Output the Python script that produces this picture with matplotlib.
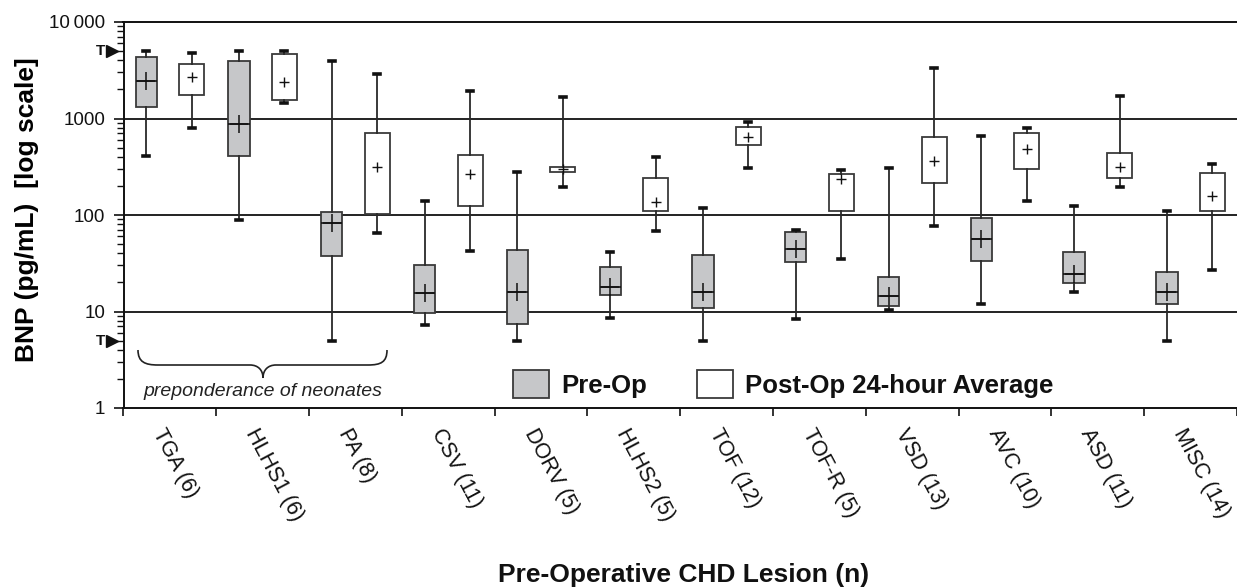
import matplotlib
matplotlib.use('Agg')
import matplotlib.pyplot as plt
from matplotlib.path import Path
from matplotlib.patches import PathPatch, Patch
import matplotlib.transforms as mtransforms
from matplotlib.ticker import FixedLocator, NullFormatter, LogLocator

plt.rcParams['font.family'] = ['Liberation Sans', 'DejaVu Sans']

categories = ["TGA (6)", "HLHS1 (6)", "PA (8)", "CSV (11)", "DORV (5)", "HLHS2 (5)",
              "TOF (12)", "TOF-R (5)", "VSD (13)", "AVC (10)", "ASD (11)", "MISC (14)"]

pre_low  = [412, 89, 5.0, 7.2, 5.0, 8.6, 5.0, 8.4, 10.4, 12.0, 15.8, 5.0]
pre_q1   = [1325, 408, 37.6, 9.6, 7.5, 14.8, 10.8, 32.3, 11.4, 33.4, 19.6, 12.0]
pre_med  = [2465, 871, 82, 15.7, 16.0, 17.8, 16.0, 44.1, 14.5, 56.4, 24.3, 15.8]
pre_q3   = [4370, 3910, 107, 30.5, 43.4, 28.7, 38.2, 66.6, 22.9, 92.4, 41.0, 25.5]
pre_high = [5040, 5040, 3980, 141, 281, 41.7, 118, 70, 309, 659, 125, 111]

post_low  = [803, 1437, 64.6, 42.7, 194, 68.3, 309, 35.0, 76.4, 141, 194, 26.9]
post_q1   = [1750, 1567, 101.6, 125, 281, 111, 531, 111, 216, 297, 240, 111]
post_med  = [2710, 2370, 317, 266, 300, 136, 638, 236, 365, 480, 317, 157]
post_q3   = [3640, 4620, 713, 422, 317, 242, 823, 266, 638, 713, 436, 274]
post_high = [4810, 5040, 2890, 1941, 1660, 402, 927, 292, 3360, 791, 1711, 338]

detect_limits = [5000, 5]

ytick_vals = [1, 10, 100, 1000, 10000]
ytick_labels = ["1", "10", "100", "1000", "10\u2009000"]

W, H = 1237, 588
fig = plt.figure(figsize=(W / 100, H / 100), dpi=100)
ax_l, ax_r, ax_t, ax_b = 123.5, 1237, 22, 408
ax = fig.add_axes([ax_l / W, 1 - ax_b / H, (ax_r - ax_l) / W, (ax_b - ax_t) / H])
cat_px = 92.9

def px_to_axes(px, py):
    return ((px - ax_l) / (ax_r - ax_l), (ax_b - py) / (ax_b - ax_t))

n = len(categories)
pos = list(range(n))

def stats(lo, q1, med, q3, hi):
    return [dict(whislo=a, q1=b, med=c, q3=d, whishi=e, mean=c, fliers=[])
            for a, b, c, d, e in zip(lo, q1, med, q3, hi)]

pre_stats = stats(pre_low, pre_q1, pre_med, pre_q3, pre_high)
post_stats = stats(post_low, post_q1, post_med, post_q3, post_high)

edge = '#3a3a3a'
common = dict(patch_artist=True, showmeans=True, meanline=False, showfliers=False,
              whiskerprops=dict(color='#2a2a2a', linewidth=1.3),
              capprops=dict(color='#111111', linewidth=2.6),
              capwidths=6 / cat_px, zorder=3)

ax.bxp(pre_stats, positions=[p - 0.255 for p in pos], widths=0.23,
       boxprops=dict(facecolor='#c6c7c9', edgecolor=edge, linewidth=1.3),
       medianprops=dict(color='#111111', linewidth=1.2),
       meanprops=dict(marker='+', markersize=13, markeredgecolor='#111111',
                      markeredgewidth=1.1),
       **common)
ax.bxp(post_stats, positions=[p + 0.235 for p in pos], widths=0.27,
       boxprops=dict(facecolor='white', edgecolor=edge, linewidth=1.3),
       medianprops=dict(linewidth=0),
       meanprops=dict(marker='+', markersize=7, markeredgecolor='#111111',
                      markeredgewidth=1.0),
       **common)

ax.set_yscale('log')
ax.set_ylim(1, 10000)
ax.set_xlim(-0.5, -0.5 + (ax_r - ax_l) / cat_px)

# horizontal reference lines
for v in [10, 100, 1000]:
    ax.axhline(v, color='#111111', linewidth=1.3, zorder=1)

ax.spines['right'].set_visible(False)
for s in ['left', 'bottom', 'top']:
    ax.spines[s].set_linewidth(1.4)
    ax.spines[s].set_color('#111111')

ax.yaxis.set_major_locator(FixedLocator(ytick_vals))
ax.set_yticklabels(ytick_labels)
ax.yaxis.set_minor_locator(LogLocator(base=10, subs=range(2, 10)))
ax.yaxis.set_minor_formatter(NullFormatter())
ax.tick_params(axis='y', which='major', direction='out', length=7, width=1.2,
               labelsize=13.5, pad=6, colors='#111111')
ax.tick_params(axis='y', which='minor', direction='out', length=5, width=1.0,
               colors='#111111')

ax.set_xticks(pos)
ax.set_xticks([p - 0.5 for p in range(n + 1)], minor=True)
ax.set_xticklabels(categories, rotation=-62, ha='left', va='baseline',
                   rotation_mode='anchor', fontsize=15.5)
ax.tick_params(axis='x', which='major', length=0, pad=18, colors='#111111')
ax.tick_params(axis='x', which='minor', direction='out', length=6, width=1.2,
               colors='#111111')
offset = mtransforms.ScaledTranslation(-17 / 100, 0, fig.dpi_scale_trans)
for lbl in ax.get_xticklabels():
    lbl.set_transform(lbl.get_transform() + offset)

ax.set_ylabel("BNP (pg/mL)  [log scale]", fontsize=19, fontweight='bold')
ax.yaxis.set_label_coords(*px_to_axes(39, 210))
fig.text(684 / W, 1 - 575 / H, "Pre-Operative CHD Lesion (n)", fontsize=19,
         fontweight='bold', ha='center', va='center', color='#111111')

# detection limit markers
blend = mtransforms.blended_transform_factory(ax.transAxes, ax.transData)
for v in detect_limits:
    ax.plot([px_to_axes(112, 0)[0]], [v], marker='>', markersize=8,
            color='#111111', transform=blend, clip_on=False)
    ax.text(px_to_axes(101, 0)[0], v, "T", transform=blend, ha='center',
            va='center', fontsize=11, fontweight='bold', color='#111111')

# brace
bp = [(138, 350), (138, 362), (145, 365), (158, 365), (250, 365),
      (258, 365), (263, 370), (263, 378), (263, 370), (268, 365), (276, 365),
      (368, 365), (381, 365), (387, 362), (387, 350)]
codes = [Path.MOVETO, Path.CURVE4, Path.CURVE4, Path.CURVE4, Path.LINETO,
         Path.CURVE4, Path.CURVE4, Path.CURVE4, Path.CURVE4, Path.CURVE4, Path.CURVE4,
         Path.LINETO, Path.CURVE4, Path.CURVE4, Path.CURVE4]
verts = [px_to_axes(x, y) for x, y in bp]
ax.add_patch(PathPatch(Path(verts, codes), facecolor='none', edgecolor='#222222',
                       linewidth=1.2, transform=ax.transAxes, clip_on=False))
tx, ty = px_to_axes(263, 391)
ax.text(tx, ty, "preponderance of neonates", transform=ax.transAxes, ha='center',
        va='center', fontsize=14, fontstyle='italic', color='#222222')

handles = [Patch(facecolor='#c6c7c9', edgecolor=edge, linewidth=1.3, label='Pre-Op'),
           Patch(facecolor='white', edgecolor=edge, linewidth=1.3,
                 label='Post-Op 24-hour Average')]
leg = ax.legend(handles=handles, ncol=2, frameon=False, loc='center left',
                bbox_to_anchor=(513 / W, 1 - 384 / H), bbox_transform=fig.transFigure,
                prop=dict(size=18.5, weight='bold'), borderpad=0, borderaxespad=0,
                handlelength=1.40, handleheight=1.28, handletextpad=0.47,
                columnspacing=1.95)
for t in leg.get_texts():
    t.set_color('#111111')

fig.savefig('out.png', dpi=100)
